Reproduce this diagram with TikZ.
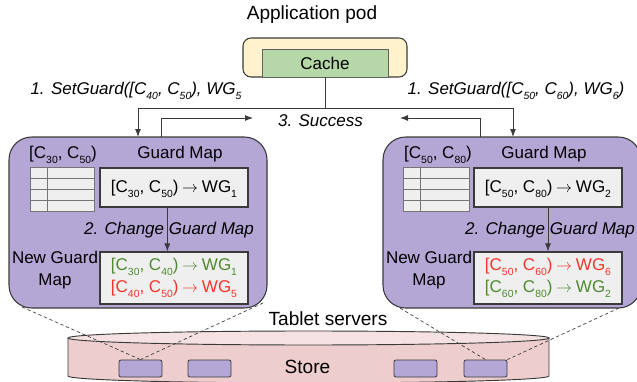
\documentclass[tikz,border=0pt]{standalone}
\usepackage{fontspec}
\setmainfont{Liberation Sans}
\usepackage{tikz}
\usetikzlibrary{arrows.meta}
\usetikzlibrary{fit}

\definecolor{podpurple}{HTML}{B4A7D6}
\definecolor{podyellow}{HTML}{FFF2CC}
\definecolor{cachegreen}{HTML}{B6D7A8}
\definecolor{boxgrey}{HTML}{EFEFEF}
\definecolor{edgegrey}{HTML}{3A3A3A}
\definecolor{storeside}{HTML}{EDCDCD}
\definecolor{storetop}{HTML}{F5E1E1}
\definecolor{mapgreen}{HTML}{4E8A30}
\definecolor{mapred}{HTML}{F2362B}

% subscripts, arrows and key ranges, as the picture prints them
\newcommand{\sbs}[1]{\raisebox{-3.3pt}{\fontsize{7.8}{7.8}\selectfont #1}}
\newcommand{\rng}[2]{[C\sbs{#1}, C\sbs{#2})}
\newcommand{\mapsarrow}{\hspace{0.22em}\ensuremath{\rightarrow}\hspace{0.22em}}

\tikzset{
  bigtext/.style={font=\fontsize{14.3}{16}\selectfont},
  plain/.style={font=\fontsize{12.75}{16.5}\selectfont},
  calllbl/.style={font=\fontsize{12.75}{16}\selectfont\itshape},
  apppod/.style={draw=edgegrey, fill=podyellow, rounded corners=6pt, line width=0.8pt, inner sep=0pt},
  cachebox/.style={draw=edgegrey!80, fill=cachegreen, line width=0.6pt, inner sep=0pt},
  pod/.style={draw=edgegrey, fill=podpurple, rounded corners=17pt, line width=0.8pt, inner sep=0pt},
  mapbox/.style={draw=edgegrey, fill=boxgrey, line width=0.8pt, inner sep=0pt},
  shard/.style={draw=edgegrey, fill=podpurple, rounded corners=1.5pt, line width=0.6pt, inner sep=0pt},
  flow/.style={draw=edgegrey, line width=0.7pt},
  flowarrow/.style={flow, -{Latex[length=6pt,width=4.5pt]}},
  zoomline/.style={draw=edgegrey, dashed, dash pattern=on 2.5pt off 2pt, line width=0.5pt},
}

\begin{document}
\begin{tikzpicture}[x=0.75pt, y=-0.75pt]
\useasboundingbox (0,0) rectangle (637,382);

% Store at the bottom: one wide cylinder
\draw[flow, fill=storeside] (68,338) -- (68,376)
    arc[start angle=180, end angle=0, x radius=240.5, y radius=7] -- (549,338);
\draw[flow, fill=storetop] (308.5,338) ellipse[x radius=240.5, y radius=7];
\node[bigtext] (tablet) at (328,319) {Tablet servers};
\node[bigtext] (store) at (307.5,367) {Store};

% tablets inside the store
\node[shard, fit={(119,360) (162,377)}] (s1) {};
\node[shard, fit={(188,360) (231,377)}] (s2) {};
\node[shard, fit={(394,360) (437,377)}] (s3) {};
\node[shard, fit={(464,360) (507,377)}] (s4) {};

% zoom lines from the tablet servers down to their tablets
\coordinate (lpodbl) at (22,307);
\coordinate (lpodbr) at (263,303);
\coordinate (rpodbl) at (395,305);
\coordinate (rpodbr) at (619,308);
\draw[zoomline] (lpodbl) -- (s1.north);
\draw[zoomline] (lpodbr) -- (s1.north);
\draw[zoomline] (rpodbl) -- (s4.north);
\draw[zoomline] (rpodbr) -- (s4.north east);

% Application pod with its cache
\node[bigtext] (apptitle) at (312,15) {Application pod};
\node[apppod, fit={(243,38) (407,77)}] (app) {};
\node[cachebox, fit={(262,49) (388,77)}] (cache) {};
\node[plain] (cachetext) at (cache.center) {Cache};

%%%%%%%%%%%%%%%%%%%%%%%%%%%%%%%%%%%%%%%%%%%%%%%%%%%%%%%%%%%%%%
% left tablet server
\node[pod, fit={(9,137) (267,308)}] (lpod) {};
\node[plain] (lrange) at (63,155) {\rng{30}{50}};
\node[plain] (lgmtitle) at (180,154) {Guard Map};
\node[plain, align=center] (lngmtitle) at (55,270) {New Guard\\Map};
\draw[draw=edgegrey!70, fill=boxgrey, line width=0.6pt] (30,167) rectangle (94,211);
\draw[draw=edgegrey!70, line width=0.6pt] (30,178) -- (94,178) (30,189) -- (94,189)
    (30,200) -- (94,200) (47,167) -- (47,211);
\node[mapbox, fit={(100,168) (248,207)}] (lgm) {};
\node[plain] (lgmtext) at ([yshift=-1pt]lgm.center) {\rng{30}{50}\mapsarrow WG\sbs{1}};
\node[mapbox, fit={(100,252) (248,304)}] (lngm) {};
\node[plain, align=center] (lngmtext) at (lngm.center) {%
  {\color{mapgreen}\rng{30}{40}\mapsarrow WG\sbs{1}}\\
  {\color{mapred}\rng{40}{50}\mapsarrow WG\sbs{5}}};
\draw[flowarrow] ([xshift=-5pt]lgm.south) -- ([xshift=-5pt]lngm.north);
\node[calllbl] (lchange) at (169,230) {2. Change Guard Map};

%%%%%%%%%%%%%%%%%%%%%%%%%%%%%%%%%%%%%%%%%%%%%%%%%%%%%%%%%%%%%%
% right tablet server
\node[pod, fit={(383,137) (641,308)}] (rpod) {};
\node[plain] (rrange) at (438,155) {\rng{50}{80}};
\node[plain] (rgmtitle) at (544,154) {Guard Map};
\node[plain, align=center] (rngmtitle) at (429,270) {New Guard\\Map};
\draw[draw=edgegrey!70, fill=boxgrey, line width=0.6pt] (403,167) rectangle (469,211);
\draw[draw=edgegrey!70, line width=0.6pt] (403,178) -- (469,178) (403,189) -- (469,189)
    (403,200) -- (469,200) (420,167) -- (420,211);
\node[mapbox, fit={(474,168) (622,207)}] (rgm) {};
\node[plain] (rgmtext) at ([yshift=-1pt]rgm.center) {\rng{50}{80}\mapsarrow WG\sbs{2}};
\node[mapbox, fit={(474,252) (622,304)}] (rngm) {};
\node[plain, align=center] (rngmtext) at (rngm.center) {%
  {\color{mapred}\rng{50}{60}\mapsarrow WG\sbs{6}}\\
  {\color{mapgreen}\rng{60}{80}\mapsarrow WG\sbs{2}}};
\draw[flowarrow] (rgm.south) -- (rngm.north);
\node[calllbl] (rchange) at (550,230) {2. Change Guard Map};

%%%%%%%%%%%%%%%%%%%%%%%%%%%%%%%%%%%%%%%%%%%%%%%%%%%%%%%%%%%%%%
% 1. SetGuard calls from the cache
\coordinate (split) at (325,108);
\coordinate (lin) at (138,137);
\coordinate (rin) at (513,137);
\draw[flow] (cache.south) -- (split);
\draw[flowarrow] (split) -| (lin);
\draw[flowarrow] (split) -| (rin);
\node[calllbl] (lcall) at (136,91) {1. SetGuard(\rng{40}{50}, WG\sbs{5}};
\node[calllbl] (rcall) at (516,91) {1. SetGuard(\rng{50}{60}, WG\sbs{6})};

% 3. Success back to the application
\node[calllbl] (success) at (320.5,121) {3. Success};
\coordinate (lout) at (161,137);
\coordinate (lret) at (253,118);
\coordinate (rout) at (480,137);
\coordinate (rret) at (400,118);
\draw[flowarrow] (lout) |- (lret);
\draw[flowarrow] (rout) |- (rret);

\end{tikzpicture}
\end{document}
